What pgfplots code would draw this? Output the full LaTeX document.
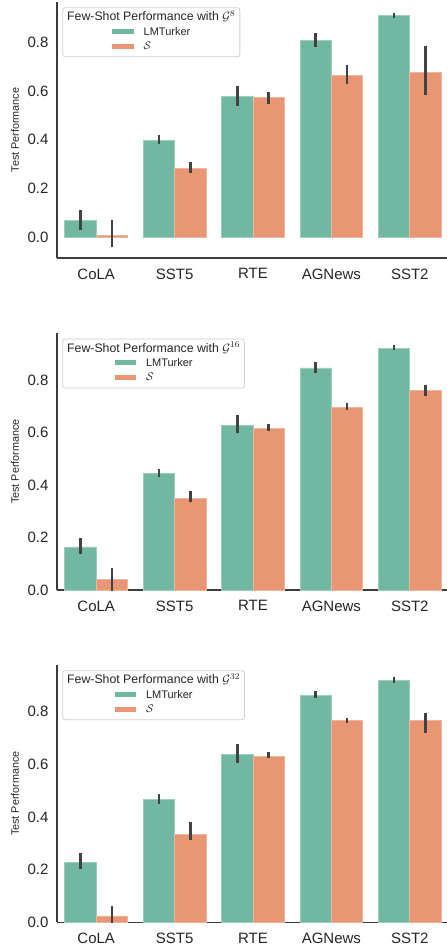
\documentclass[border=0pt]{standalone}
\usepackage{pgfplots}
\pgfplotsset{compat=1.18}
\usepackage{pgfplotstable}
\usepackage{fontspec}
\setmainfont{Liberation Sans}
\usetikzlibrary{calc}
\definecolor{cgreen}{HTML}{71B7A1}
\definecolor{corange}{HTML}{E99675}
\definecolor{spine}{HTML}{3C3C3C}
\definecolor{txt}{HTML}{262626}
\definecolor{errc}{HTML}{424242}
\definecolor{legframe}{HTML}{D0D0D0}

% panel 1 (G^8)
\pgfplotstableread{
x y lo hi
0 0.068 0.030 0.112
1 0.398 0.383 0.420
2 0.577 0.538 0.621
3 0.809 0.779 0.839
4 0.909 0.900 0.921
}\gA
\pgfplotstableread{
x y lo hi
0 0.008 -0.041 0.071
1 0.283 0.265 0.310
2 0.573 0.548 0.597
3 0.663 0.630 0.708
4 0.677 0.583 0.786
}\sA
% panel 2 (G^16)
\pgfplotstableread{
x y lo hi
0 0.164 0.136 0.197
1 0.444 0.429 0.460
2 0.627 0.597 0.667
3 0.846 0.828 0.870
4 0.921 0.914 0.932
}\gB
\pgfplotstableread{
x y lo hi
0 0.039 -0.005 0.083
1 0.348 0.335 0.376
2 0.616 0.606 0.631
3 0.695 0.686 0.714
4 0.761 0.739 0.781
}\sB
% panel 3 (G^32)
\pgfplotstableread{
x y lo hi
0 0.228 0.202 0.262
1 0.467 0.450 0.487
2 0.637 0.606 0.676
3 0.862 0.852 0.878
4 0.920 0.910 0.933
}\gC
\pgfplotstableread{
x y lo hi
0 0.024 -0.010 0.062
1 0.334 0.311 0.380
2 0.630 0.623 0.646
3 0.767 0.758 0.776
4 0.765 0.718 0.795
}\sC

\pgfplotsset{
  panel/.style={
    scale only axis, width=392pt,
    xmin=-0.5, xmax=4.5,
    axis x line*=bottom, axis y line*=left,
    axis line style={-, color=spine, line width=1.6pt},
    major tick length=0pt,
    xtick={0,1,2,3,4},
    xticklabels={CoLA,SST5,RTE,AGNews,SST2},
    ytick={0,0.2,0.4,0.6,0.8},
    /pgf/number format/assume math mode=true,
    tick label style={font=\fontsize{15}{18}\selectfont, text=txt},
    xticklabel style={yshift=-7pt},
    yticklabel style={xshift=-5pt, /pgf/number format/.cd, fixed, fixed zerofill, precision=1},
    ylabel={Test Performance},
    ylabel style={at={(axis description cs:-0.107,0.5)}, anchor=center, font=\fontsize{10.8}{13}\selectfont, text=txt},
    ybar, bar width=0.4,
  },
  gbar/.style={fill=cgreen, draw=cgreen!70!white, line width=0.8pt, bar shift=-0.2,
    error bars/.cd, y dir=both, y explicit, error mark=none,
    error bar style={line width=2.5pt, color=errc}},
  obar/.style={fill=corange, draw=corange!70!white, line width=0.8pt, bar shift=0.2,
    error bars/.cd, y dir=both, y explicit, error mark=none,
    error bar style={line width=2.5pt, color=errc}},
}
\newcommand{\sw}[1]{\textcolor{#1}{\rule[1pt]{21.5pt}{5pt}}}
\newcommand{\leg}[1]{%
  \node[draw=legframe, line width=0.8pt, rounded corners=2.5pt, fill=white, anchor=north west,
    inner xsep=4.5pt, inner ysep=3pt, align=center, font=\fontsize{12.3}{15}\selectfont, text=txt]
    at ($(rel axis cs:0,1)+(5.3pt,-5.3pt)$)
    {Few-Shot Performance with $\mathcal{G}^{#1}$\\[2.5pt]
     {\fontsize{11}{13.7}\selectfont\begin{tabular}{@{}l@{\hspace{10pt}}l@{}}\sw{cgreen} & LMTurker\\[0.8pt] \sw{corange} & $\mathcal{S}$\end{tabular}}};}

\begin{document}
\begin{tikzpicture}
\useasboundingbox (0pt,0pt) rectangle (447pt,-945pt);
\begin{axis}[panel, at={(57pt,-258pt)}, anchor=south west, height=256pt, ymin=-0.085, ymax=0.965]
\addplot+[gbar] table[x=x,y=y, y error plus expr=\thisrow{hi}-\thisrow{y}, y error minus expr=\thisrow{y}-\thisrow{lo}] {\gA};
\addplot+[obar] table[x=x,y=y, y error plus expr=\thisrow{hi}-\thisrow{y}, y error minus expr=\thisrow{y}-\thisrow{lo}] {\sA};
\leg{8}
\end{axis}
\begin{axis}[panel, at={(57pt,-590pt)}, anchor=south west, height=256.7pt, ymin=0, ymax=0.978]
\addplot+[gbar] table[x=x,y=y, y error plus expr=\thisrow{hi}-\thisrow{y}, y error minus expr=\thisrow{y}-\thisrow{lo}] {\gB};
\addplot+[obar] table[x=x,y=y, y error plus expr=\thisrow{hi}-\thisrow{y}, y error minus expr=\thisrow{y}-\thisrow{lo}] {\sB};
\leg{16}
\end{axis}
\begin{axis}[panel, at={(57pt,-922.3pt)}, anchor=south west, height=257.3pt, ymin=0, ymax=0.977]
\addplot+[gbar] table[x=x,y=y, y error plus expr=\thisrow{hi}-\thisrow{y}, y error minus expr=\thisrow{y}-\thisrow{lo}] {\gC};
\addplot+[obar] table[x=x,y=y, y error plus expr=\thisrow{hi}-\thisrow{y}, y error minus expr=\thisrow{y}-\thisrow{lo}] {\sC};
\leg{32}
\end{axis}
\end{tikzpicture}
\end{document}
